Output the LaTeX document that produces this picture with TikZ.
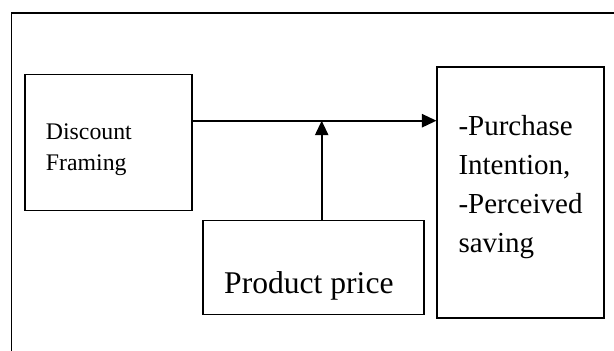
\documentclass[tikz,border=0pt]{standalone}
\usepackage{fontspec}
\setmainfont{Liberation Serif}
\usetikzlibrary{arrows.meta}
\begin{document}
\begin{tikzpicture}[x=1pt,y=-1pt,
  box/.style={draw=black,line width=1.8pt,rectangle,inner sep=0pt},
  lbl/.style={anchor=base west,inner sep=0pt,text=black},
  link/.style={line width=1.6pt,-{Triangle[length=14.5pt,width=13.3pt]}}]
\useasboundingbox (0,0) rectangle (614,351);
\clip (0,0) rectangle (614,351);
\fill[white] (0,0) rectangle (614,351);
% outer frame, running past the right and lower edges
\draw[line width=1.9pt] (11.5,400) -- (11.5,12.8) -- (700,12.8);
% boxes
\node[box,minimum width=166.7pt,minimum height=136pt] (df) at (108.4,142.5) {};
\node[box,minimum width=166.3pt,minimum height=251.6pt] (out) at (520.5,192.5) {};
\node[box,minimum width=220.6pt,minimum height=94pt] (pp) at (313.6,267.4) {};
% labels
\node[lbl,font=\fontsize{23.8}{28}\selectfont] (t1) at (45.7,139.3) {Discount};
\node[lbl,font=\fontsize{23.8}{28}\selectfont] (t2) at (45.7,170.5) {Framing};
\node[lbl,font=\fontsize{31.6}{36}\selectfont] (t3) at (224,293) {Product price};
\node[lbl,font=\fontsize{29}{34}\selectfont] (t4) at (458.3,135.5) {-Purchase};
\node[lbl,font=\fontsize{29}{34}\selectfont] (t5) at (458.3,174.5) {Intention,};
\node[lbl,font=\fontsize{29}{34}\selectfont] (t6) at (458.3,213.5) {-Perceived};
\node[lbl,font=\fontsize{29}{34}\selectfont] (t7) at (458.3,252.5) {saving};
% connectors
\coordinate (j) at (321.7,120.7);
\draw[link] (df.east |- j) -- (out.west |- j);
\draw[link] (pp.north -| j) -- (j);
\end{tikzpicture}
\end{document}
